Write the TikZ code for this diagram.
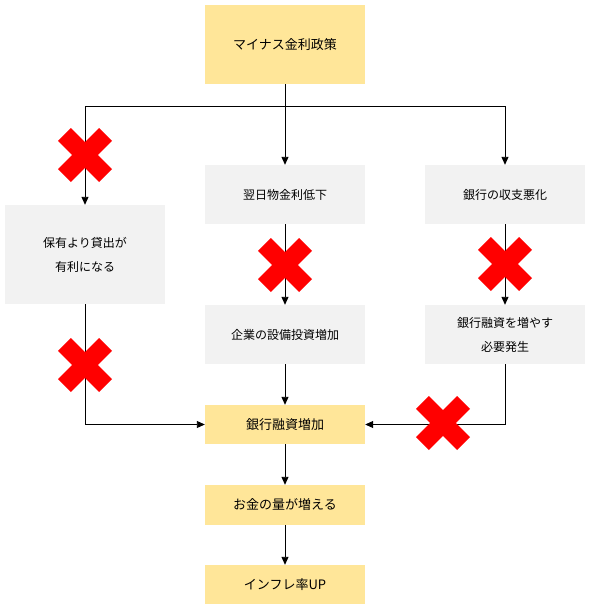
\documentclass[tikz,border=0pt]{standalone}
\usepackage{fontspec}
\setmainfont{Noto Sans CJK JP}
\usetikzlibrary{arrows.meta}
\definecolor{boxyellow}{HTML}{FFE699}
\definecolor{boxgray}{HTML}{F2F2F2}
\definecolor{xred}{HTML}{FF0000}
\tikzset{
  ybox/.style={fill=boxyellow, draw=none, minimum width=160pt, inner sep=0pt, align=center, font=\fontsize{13}{24}\selectfont},
  gbox/.style={fill=boxgray, draw=none, minimum width=160pt, inner sep=0pt, align=center, font=\fontsize{12}{24}\selectfont},
  arr/.style={draw=black, line width=0.9pt, -{Triangle[length=8pt,width=7pt]}},
  ln/.style={draw=black, line width=0.9pt},
  xmark/.pic={\fill[xred] (27,14.2) -- (12.8,0) -- (27,-14.2) -- (14.2,-27) -- (0,-12.8) -- (-14.2,-27) -- (-27,-14.2) -- (-12.8,0) -- (-27,14.2) -- (-14.2,27) -- (0,12.8) -- (14.2,27) -- cycle;}
}
\begin{document}
\begin{tikzpicture}[x=1pt,y=-1pt]
\useasboundingbox (0,0) rectangle (591,608);
% nodes
\node[ybox, minimum height=79pt] (top) at (285,44.5) {マイナス金利政策};
\node[gbox, minimum height=99pt] (left) at (85,254.5) {保有より貸出が\\有利になる};
\node[gbox, minimum height=59pt] (m1) at (285,194.5) {翌日物金利低下};
\node[gbox, minimum height=59pt] (m2) at (285,334.5) {企業の設備投資増加};
\node[gbox, minimum height=59pt] (r1) at (505,194.5) {銀行の収支悪化};
\node[gbox, minimum height=59pt] (r2) at (505,334.5) {銀行融資を増やす\\必要発生};
\node[ybox, minimum height=39pt] (loan) at (285,424.5) {銀行融資増加};
\node[ybox, minimum height=40pt] (money) at (285,505) {お金の量が増える};
\node[ybox, minimum height=39pt] (infl) at (285,584.5) {インフレ率UP};
\coordinate (split) at (285,106);
% connectors
\draw[ln] (top.south) -- (split);
\draw[arr] (split) -| (left.north);
\draw[arr] (split) -- (m1.north);
\draw[arr] (split) -| (r1.north);
\draw[arr] (m1) -- (m2);
\draw[arr] (r1) -- (r2);
\draw[arr] (m2) -- (loan);
\draw[arr] (left.south) |- (loan.west);
\draw[arr] (r2.south) |- (loan.east);
\draw[arr] (loan) -- (money);
\draw[arr] (money) -- (infl);
% crosses
\pic at (85,155) {xmark};
\pic at (85,365) {xmark};
\pic at (285,265) {xmark};
\pic at (505,264) {xmark};
\pic at (443,423) {xmark};
\end{tikzpicture}
\end{document}
